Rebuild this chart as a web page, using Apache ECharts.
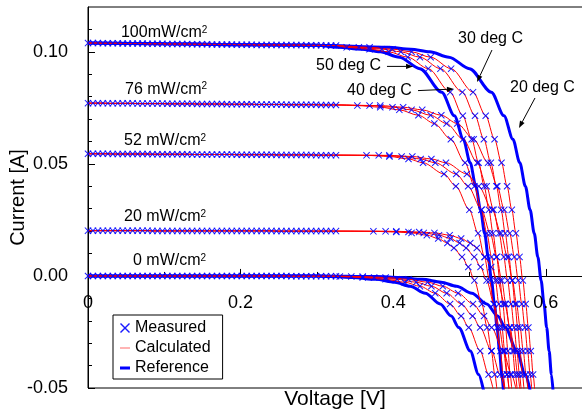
<!DOCTYPE html>
<html><head><meta charset="utf-8">
<script src="https://cdn.jsdelivr.net/npm/echarts@6/dist/echarts.min.js"></script>
<style>html,body{margin:0;padding:0;background:#fff}#c{width:582px;height:414px}</style>
</head><body><div id="c"></div>
<script>
const FONT = '"Liberation Sans", Arial, Helvetica, sans-serif';

// ---------- flat (low-voltage) region, shared voltage grid ----------
const V_FLAT = [0,0.0065,0.013,0.0195,0.026,0.0325,0.039,0.0455,0.052,0.0585,0.065,0.0715,0.078,0.0845,0.091,0.0975,0.104,0.1105,0.117,0.1235,0.13,0.1365,0.143,0.1495,0.156,0.1625,0.169,0.1755,0.182,0.1885,0.195,0.2015,0.208,0.2145,0.221,0.2275,0.234,0.2405,0.247,0.2535,0.26,0.2665,0.273,0.2795,0.286,0.2925,0.299,0.3055,0.312,0.3185,0.325];
const I_FLAT_100 = [0.1039,0.1039,0.1039,0.1038,0.1038,0.1038,0.1038,0.1037,0.1037,0.1037,0.1037,0.1037,0.1036,0.1036,0.1036,0.1036,0.1035,0.1035,0.1035,0.1035,0.1035,0.1034,0.1034,0.1034,0.1034,0.1033,0.1033,0.1033,0.1033,0.1033,0.1032,0.1032,0.1032,0.1032,0.1031,0.1031,0.1031,0.1031,0.1031,0.1030,0.1030,0.1030,0.1030,0.1030,0.1029,0.1029,0.1029,0.1029,0.1028,0.1028,0.1028];
const I_FLAT_76 = [0.0771,0.0771,0.0771,0.0771,0.0770,0.0770,0.0770,0.0770,0.0770,0.0770,0.0769,0.0769,0.0769,0.0769,0.0769,0.0769,0.0768,0.0768,0.0768,0.0768,0.0768,0.0768,0.0767,0.0767,0.0767,0.0767,0.0767,0.0767,0.0766,0.0766,0.0766,0.0766,0.0766,0.0766,0.0765,0.0765,0.0765,0.0765,0.0765,0.0765,0.0764,0.0764,0.0764,0.0764,0.0764,0.0764,0.0764,0.0763,0.0763,0.0763,0.0763];
const I_FLAT_52 = [0.0545,0.0545,0.0545,0.0545,0.0545,0.0544,0.0544,0.0544,0.0544,0.0544,0.0544,0.0544,0.0544,0.0543,0.0543,0.0543,0.0543,0.0543,0.0543,0.0543,0.0543,0.0542,0.0542,0.0542,0.0542,0.0542,0.0542,0.0542,0.0542,0.0542,0.0541,0.0541,0.0541,0.0541,0.0541,0.0541,0.0541,0.0541,0.0540,0.0540,0.0540,0.0540,0.0540,0.0540,0.0540,0.0540,0.0539,0.0539,0.0539,0.0539,0.0539];
const I_FLAT_20 = [0.0202,0.0202,0.0202,0.0202,0.0202,0.0202,0.0202,0.0202,0.0202,0.0202,0.0202,0.0202,0.0202,0.0201,0.0201,0.0201,0.0201,0.0201,0.0201,0.0201,0.0201,0.0201,0.0201,0.0201,0.0201,0.0201,0.0201,0.0201,0.0201,0.0201,0.0201,0.0201,0.0201,0.0201,0.0201,0.0201,0.0201,0.0201,0.0200,0.0200,0.0200,0.0200,0.0200,0.0200,0.0200,0.0200,0.0200,0.0200,0.0200,0.0200,0.0200];
const I_FLAT_0 = [0,0,0,0,0,0,0,0,0,0,0,0,0,0,0,0,0,0,0,0,0,0,0,0,0,0,0,0,0,0,0,0,0,0,0,0,0,0,0,0,0,-0.0001,-0.0001,-0.0001,-0.0001,-0.0001,-0.0001,-0.0001,-0.0001,-0.0001,-0.0001];

// ---------- knee / steep region ----------
// 100 mW/cm2
const I_KNEE_100 = [0.1020,0.1012,0.1000,0.0976,0.0925,0.082,0.0715,0.061,0.0505,0.04,0.0295,0.019,0.0085,-0.002,-0.0125,-0.023,-0.0335,-0.044,-0.0545];
const V_100_50 = [0.339,0.369,0.394,0.419,0.4459,0.4746,0.4912,0.5028,0.5119,0.5192,0.5254,0.5308,0.5355,0.5398,0.5436,0.5471,0.5503,0.5533,0.5561];
const V_100_40 = [0.355,0.385,0.41,0.435,0.4619,0.4906,0.5072,0.5188,0.5279,0.5352,0.5414,0.5468,0.5515,0.5558,0.5596,0.5631,0.5663,0.5693,0.5721];
const V_100_30 = [0.369,0.399,0.424,0.449,0.4759,0.5046,0.5212,0.5328,0.5419,0.5492,0.5554,0.5608,0.5655,0.5698,0.5736,0.5771,0.5803,0.5833,0.5861];
const V_REF100_50 = [0.328,0.358,0.383,0.408,0.4349,0.4636,0.4802,0.4918,0.5009,0.5082,0.5144,0.5198,0.5245,0.5288,0.5326,0.5361,0.5393,0.5423,0.5451];
const V_REF100_20 = [0.393,0.423,0.448,0.473,0.4999,0.5286,0.5452,0.5568,0.5659,0.5732,0.5794,0.5848,0.5895,0.5938,0.5976,0.6011,0.6043,0.6073,0.6101];
// 76 mW/cm2
const I_KNEE_76 = [0.0760,0.0753,0.0741,0.0717,0.068,0.061,0.0505,0.04,0.0295,0.019,0.0085,-0.002,-0.0125,-0.023,-0.0335,-0.044,-0.0545];
const V_76_50 = [0.353,0.383,0.408,0.433,0.4539,0.4755,0.4942,0.5064,0.5155,0.5227,0.5288,0.5339,0.5384,0.5425,0.5461,0.5494,0.5524];
const V_76_40 = [0.369,0.399,0.424,0.449,0.4699,0.4915,0.5102,0.5224,0.5315,0.5387,0.5448,0.5499,0.5544,0.5585,0.5621,0.5654,0.5684];
const V_76_30 = [0.383,0.413,0.438,0.463,0.4839,0.5055,0.5242,0.5364,0.5455,0.5527,0.5588,0.5639,0.5684,0.5725,0.5761,0.5794,0.5824];
// 52 mW/cm2
const I_KNEE_52 = [0.0538,0.0533,0.0522,0.0505,0.0455,0.04,0.0295,0.019,0.0085,-0.002,-0.0125,-0.023,-0.0335,-0.044,-0.0545];
const V_52_50 = [0.365,0.395,0.42,0.4391,0.4665,0.4821,0.4998,0.5112,0.5195,0.5262,0.5316,0.5363,0.5404,0.544,0.5473];
const V_52_40 = [0.381,0.411,0.436,0.4551,0.4825,0.4981,0.5158,0.5272,0.5355,0.5422,0.5476,0.5523,0.5564,0.56,0.5633];
const V_52_30 = [0.395,0.425,0.45,0.4691,0.4965,0.5121,0.5298,0.5412,0.5495,0.5562,0.5616,0.5663,0.5704,0.574,0.5773];
// 20 mW/cm2
const I_KNEE_20 = [0.0199,0.0196,0.0192,0.0182,0.0167,0.0147,0.0125,0.0085,0.004,-0.002,-0.0125,-0.023,-0.0335,-0.044,-0.0545];
const V_20_50 = [0.374,0.404,0.424,0.444,0.459,0.471,0.4795,0.4902,0.4984,0.5064,0.5161,0.5231,0.5286,0.5331,0.5369];
const V_20_40 = [0.39,0.42,0.44,0.46,0.475,0.487,0.4955,0.5062,0.5144,0.5224,0.5321,0.5391,0.5446,0.5491,0.5529];
const V_20_30 = [0.404,0.434,0.454,0.474,0.489,0.501,0.5095,0.5202,0.5284,0.5364,0.5461,0.5531,0.5586,0.5631,0.5669];
// 0 mW/cm2 (dark)
const I_KNEE_0 = [-0.0003,-0.0007,-0.0015,-0.0028,-0.0046,-0.0077,-0.0125,-0.0179,-0.023,-0.0335,-0.044,-0.0545];
const V_0_50 = [0.33,0.36,0.39,0.415,0.435,0.455,0.4745,0.489,0.4989,0.514,0.5249,0.5334];
const V_0_40 = [0.345,0.375,0.405,0.43,0.45,0.47,0.4895,0.504,0.5139,0.529,0.5399,0.5484];
const V_0_30 = [0.36,0.39,0.42,0.445,0.465,0.485,0.5045,0.519,0.5289,0.544,0.5549,0.5634];
const V_REF0_50 = [0.317,0.347,0.377,0.402,0.422,0.442,0.4615,0.476,0.4859,0.501,0.5119,0.5204];
const V_REF0_20 = [0.378,0.408,0.438,0.463,0.483,0.503,0.5225,0.537,0.5469,0.562,0.5729,0.5814];

// reference curves, low-voltage part
const REF_START_V = [0,0.1,0.2,0.3];
const REF_START_I_100 = [0.1039,0.1036,0.1032,0.1029];
const REF_START_I_0 = [0,0,0,0];

// axis ticks
const X_TICKS = [0,0.2,0.4,0.6];
const X_TICK_LABELS = ['0','0.2','0.4','0.6'];
const Y_TICKS = [-0.05,0,0.05,0.1];

// annotations (data coordinates)
const IRR_LABELS = ['100mW/cm','76 mW/cm','52 mW/cm','20 mW/cm','0 mW/cm'];
const IRR_POS = [[0.0432,0.1084],[0.0485,0.0832],[0.0472,0.0602],[0.0472,0.0263],[0.059,0.0067]];
const TEMP_LABELS = ['30 deg C','50 deg C','40 deg C','20 deg C'];
const TEMP_POS = [[0.4849,0.1059],[0.2988,0.0939],[0.3394,0.0827],[0.553,0.0841]];
const ARROWS = [[[0.5294,0.1008],[0.5098,0.0865]],[[0.3918,0.0935],[0.426,0.0935]],[[0.4325,0.0827],[0.4796,0.0834]],[[0.5858,0.0794],[0.5648,0.066]]];

const XPATH = 'path://M0,1L1,0L5,4L9,0L10,1L6,5L10,9L9,10L5,6L1,10L0,9L4,5Z';
const THIN = 'path://M0,0L0.01,0L0,0.01Z M0,4.4L10,4.4L10,5.6L0,5.6Z M10,10L9.99,10L10,9.99Z';
const THICK = 'path://M0,0L0.01,0L0,0.01Z M0,3.5L10,3.5L10,6.5L0,6.5Z M10,10L9.99,10L10,9.99Z';

const pts = (V, I) => V.map((v, i) => [v, I[i]]);
const levels = [
  {flat: I_FLAT_100, knee: I_KNEE_100, meas: [V_100_50, V_100_40, V_100_30], refs: [V_REF100_50, V_REF100_20], refStart: REF_START_I_100},
  {flat: I_FLAT_76, knee: I_KNEE_76, meas: [V_76_50, V_76_40, V_76_30], refs: []},
  {flat: I_FLAT_52, knee: I_KNEE_52, meas: [V_52_50, V_52_40, V_52_30], refs: []},
  {flat: I_FLAT_20, knee: I_KNEE_20, meas: [V_20_50, V_20_40, V_20_30], refs: []},
  {flat: I_FLAT_0, knee: I_KNEE_0, meas: [V_0_50, V_0_40, V_0_30], refs: [V_REF0_50, V_REF0_20], refStart: REF_START_I_0}
];

const series = [];
levels.forEach(L => {
  L.refs.forEach(Vr => series.push({
    type: 'line', name: 'Reference', data: pts(REF_START_V, L.refStart).concat(pts(Vr, L.knee)),
    symbol: 'none', smooth: 0.3, smoothMonotone: 'x', z: 2, silent: true,
    lineStyle: {color: '#0000ff', width: 3}, itemStyle: {color: '#0000ff'}
  }));
  L.meas.forEach(Vm => series.push({
    type: 'line', name: 'Calculated', data: pts(V_FLAT, L.flat).concat(pts(Vm, L.knee)),
    symbol: 'none', smooth: 0.3, smoothMonotone: 'x', z: 3, silent: true,
    lineStyle: {color: '#ff0000', width: 1}, itemStyle: {color: '#ff0000'}
  }));
  let m = pts(V_FLAT, L.flat);
  L.meas.forEach(Vm => { m = m.concat(pts(Vm, L.knee)); });
  series.push({
    type: 'scatter', name: 'Measured', data: m, symbol: XPATH, symbolSize: 7, z: 4, silent: true,
    itemStyle: {color: '#0000ff', opacity: 0.9}
  });
});

const axisText = {color: '#000', fontSize: 18, fontFamily: FONT};
const chart = echarts.init(document.getElementById('c'), null, {renderer: 'canvas'});
const option = {
  animation: false,
  backgroundColor: '#fff',
  grid: {left: 88, right: -2, top: 7, bottom: 26, show: true, borderColor: '#000', borderWidth: 1,
         backgroundColor: 'transparent', containLabel: false, outerBoundsMode: 'none'},
  xAxis: {
    type: 'value', min: 0, max: 0.65, interval: 0.2, position: 'bottom',
    axisLine: {show: true, onZero: true, lineStyle: {color: '#000', width: 1}},
    axisTick: {show: true, inside: true, length: 7, customValues: X_TICKS, lineStyle: {color: '#000'}},
    minorTick: {show: true, splitNumber: 2, length: 4, lineStyle: {color: '#000'}},
    axisLabel: {show: false},
    splitLine: {show: false}, minorSplitLine: {show: false}
  },
  yAxis: {
    type: 'value', min: -0.05, max: 0.12, interval: 0.05, position: 'left',
    axisLine: {show: true, onZero: false, lineStyle: {color: '#000', width: 1}},
    axisTick: {show: true, inside: true, length: 7, customValues: Y_TICKS, lineStyle: {color: '#000'}},
    minorTick: {show: true, splitNumber: 5, length: 4, lineStyle: {color: '#000'}},
    axisLabel: Object.assign({customValues: Y_TICKS, margin: 20,
      formatter: v => (Math.abs(v) < 1e-9 ? '0.00' : v.toFixed(2))}, axisText),
    splitLine: {show: false}, minorSplitLine: {show: false},
    name: 'Current [A]', nameLocation: 'middle', nameGap: 60, nameMoveOverlap: false,
    nameTextStyle: {color: '#000', fontSize: 20, fontFamily: FONT}
  },
  legend: {
    orient: 'vertical', left: 113, top: 315, padding: [5, 12, 3, 7], itemGap: 4,
    itemWidth: 10, itemHeight: 10, borderColor: '#000', borderWidth: 1, borderRadius: 0,
    backgroundColor: '#fff', selectedMode: false, z: 20,
    textStyle: {fontSize: 16, color: '#000', fontFamily: FONT},
    data: [
      {name: 'Measured', icon: XPATH, itemStyle: {color: '#0000ff', borderWidth: 0}},
      {name: 'Calculated', icon: THIN, itemStyle: {color: '#ff6a6a', borderWidth: 0}},
      {name: 'Reference', icon: THICK, itemStyle: {color: '#0000ff', borderWidth: 0}}
    ]
  },
  series: series
};
chart.setOption(option);

// annotations and x tick labels (placed through the axes)
const toPx = p => chart.convertToPixel({gridIndex: 0}, p);
const graphics = [];
X_TICKS.forEach((v, i) => {
  const p = toPx([v, 0]);
  graphics.push({type: 'text', x: p[0], y: p[1] + 27, z: 50, style: {
    text: X_TICK_LABELS[i], fill: '#000', fontSize: 18, fontFamily: FONT, align: 'center', verticalAlign: 'middle'}});
});
IRR_LABELS.forEach((t, i) => {
  const p = toPx(IRR_POS[i]);
  graphics.push({type: 'text', x: p[0], y: p[1], z: 50, style: {
    text: t + '{s|2}', fill: '#000', fontSize: 16, fontFamily: FONT, align: 'left', verticalAlign: 'middle',
    rich: {s: {fontSize: 10, fontFamily: FONT, fill: '#000', verticalAlign: 'top'}}
  }});
});
TEMP_LABELS.forEach((t, i) => {
  const p = toPx(TEMP_POS[i]);
  graphics.push({type: 'text', x: p[0], y: p[1], z: 50, style: {
    text: t, fill: '#000', fontSize: 16, fontFamily: FONT, align: 'left', verticalAlign: 'middle'}});
});
ARROWS.forEach(a => {
  const p0 = toPx(a[0]), p1 = toPx(a[1]);
  const dx = p1[0] - p0[0], dy = p1[1] - p0[1], L = Math.hypot(dx, dy);
  const ux = dx / L, uy = dy / L, hl = 7, hw = 2.6;
  const bx = p1[0] - ux * hl, by = p1[1] - uy * hl;
  graphics.push({type: 'line', z: 50, shape: {x1: p0[0], y1: p0[1], x2: bx, y2: by}, style: {stroke: '#000', lineWidth: 1}});
  graphics.push({type: 'polygon', z: 50, shape: {points: [[p1[0], p1[1]], [bx - uy * hw, by + ux * hw], [bx + uy * hw, by - ux * hw]]}, style: {fill: '#000'}});
});
const xl = toPx([0, -0.05]);
graphics.push({type: 'text', x: (xl[0] + chart.getWidth()) / 2, y: xl[1] + 1, z: 50, style: {
  text: 'Voltage [V]', fill: '#000', fontSize: 21, fontFamily: FONT, align: 'center', verticalAlign: 'top'}});
chart.setOption({graphic: graphics});
</script>
</body></html>
